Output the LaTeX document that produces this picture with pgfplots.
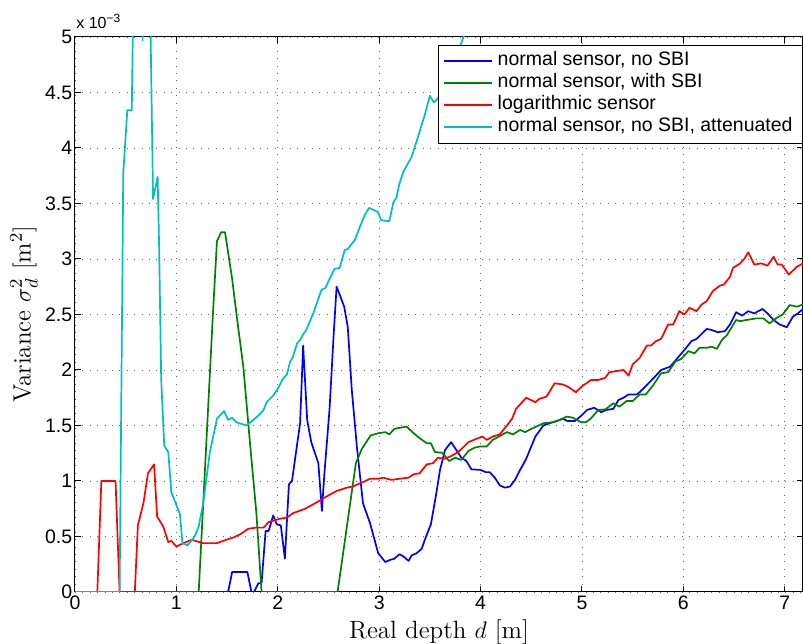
\documentclass[border=0pt]{standalone}
\usepackage{fontspec}
\usepackage{pgfplots}
\pgfplotsset{compat=1.18}
\newfontfamily\arial{Liberation Sans}
\definecolor{mblue}{rgb}{0,0,1}
\definecolor{mgreen}{rgb}{0,0.5,0}
\definecolor{mred}{rgb}{1,0,0}
\definecolor{mcyan}{rgb}{0,0.75,0.75}
\begin{document}
\begin{tikzpicture}
\begin{axis}[name=ax, scale only axis, width=364pt, height=277.5pt,
  xmin=0, xmax=7.18, ymin=0, ymax=5,
  xtick={0,1,2,3,4,5,6,7},
  ytick={0,0.5,1,1.5,2,2.5,3,3.5,4,4.5,5},
  yticklabels={0,0.5,1,1.5,2,2.5,3,3.5,4,4.5,5},
  tick align=inside, major tick length=2.8pt,
  every tick/.style={black, line width=0.5pt},
  axis line style={line width=0.5pt},
  grid=major,
  major grid style={black!60, line width=0.45pt, dash pattern=on 0.5pt off 3.2pt},
  /pgf/number format/assume math mode=true,
  tick label style={font=\arial\fontsize{9.75}{11}\selectfont},
  yticklabel style={inner sep=1.2pt},
  xticklabel style={inner sep=1.6pt},
  xlabel={Real depth $d$ [m]},
  ylabel={Variance $\sigma_d^2$ $[\mathrm{m}^2]$},
  label style={font=\fontsize{12.5}{15}\selectfont},
  xlabel shift=0pt, ylabel shift=-1pt,
  legend cell align=left,
  legend image code/.code={\draw[#1, line width=0.9pt] (0pt,0pt) -- (24pt,0pt);},
  legend style={at={(1,1)}, anchor=north east, xshift=0pt, yshift=-4pt,
    font=\arial\fontsize{9.75}{11}\selectfont, draw=black,
    inner xsep=2.5pt, inner ysep=2.5pt, row sep=0pt,
    nodes={inner xsep=2.5pt, inner ysep=1pt, text height=6.8pt, text depth=2.2pt}},
]
% normal sensor, no SBI
\addplot[mblue, line width=0.85pt, line join=round] coordinates {
(0,0) (1.51,0) (1.55,0.18) (1.70,0.18) (1.74,0) (1.765,0) (1.81,0.08) (1.84,0.08)
(1.88,0.55) (1.91,0.55) (1.955,0.69) (1.99,0.61) (2.03,0.60) (2.07,0.30) (2.11,0.97)
(2.14,1.00) (2.22,1.52) (2.25,2.22) (2.29,1.55) (2.33,1.35) (2.40,1.16) (2.435,0.73)
(2.46,1.07) (2.51,1.64) (2.55,2.30) (2.58,2.75) (2.61,2.68) (2.655,2.57) (2.69,2.39)
(2.73,1.82) (2.78,1.31) (2.84,0.80) (2.91,0.62) (2.99,0.35) (3.06,0.27) (3.11,0.29)
(3.15,0.30) (3.20,0.34) (3.24,0.32) (3.29,0.28) (3.32,0.33) (3.37,0.35) (3.42,0.39)
(3.45,0.47) (3.51,0.61) (3.56,0.87) (3.60,1.10) (3.65,1.28) (3.71,1.35) (3.76,1.28)
(3.81,1.21) (3.86,1.18) (3.91,1.105) (4.00,1.10) (4.05,1.08) (4.09,1.08) (4.14,1.03)
(4.19,0.96) (4.24,0.94) (4.29,0.95) (4.34,1.01) (4.39,1.10) (4.45,1.20) (4.54,1.40)
(4.62,1.50) (4.68,1.52) (4.75,1.54) (4.81,1.56) (4.86,1.54) (4.93,1.54) (4.995,1.59)
(5.05,1.64) (5.12,1.66) (5.19,1.62) (5.24,1.64) (5.31,1.65) (5.36,1.73) (5.41,1.75)
(5.46,1.78) (5.54,1.78) (5.57,1.80) (5.64,1.865) (5.72,1.94) (5.78,2.00) (5.87,2.03)
(5.94,2.105) (6.01,2.18) (6.08,2.26) (6.13,2.28) (6.23,2.37) (6.28,2.36) (6.34,2.34)
(6.41,2.35) (6.46,2.41) (6.52,2.52) (6.58,2.49) (6.64,2.53) (6.70,2.51) (6.78,2.55)
(6.83,2.51) (6.89,2.45) (6.95,2.41) (7.02,2.385) (7.08,2.48) (7.13,2.51) (7.18,2.55)
};
\addlegendentry{normal sensor, no SBI}
% normal sensor, with SBI
\addplot[mgreen, line width=0.85pt, line join=round] coordinates {
(0,0) (1.22,0) (1.36,2.50) (1.40,3.16) (1.44,3.24) (1.48,3.24) (1.55,2.82) (1.60,2.45)
(1.66,2.03) (1.73,1.30) (1.79,0.70) (1.84,0) (2.59,0) (2.77,1.16) (2.83,1.29)
(2.915,1.41) (2.99,1.43) (3.06,1.44) (3.10,1.42) (3.15,1.47) (3.27,1.49) (3.34,1.43)
(3.40,1.385) (3.47,1.34) (3.51,1.34) (3.55,1.26) (3.62,1.255) (3.69,1.18) (3.75,1.21)
(3.81,1.19) (3.88,1.27) (3.94,1.30) (3.99,1.31) (4.06,1.31) (4.12,1.37) (4.19,1.405)
(4.26,1.44) (4.32,1.42) (4.39,1.46) (4.44,1.44) (4.50,1.47) (4.55,1.49) (4.62,1.52)
(4.72,1.53) (4.78,1.55) (4.85,1.58) (4.91,1.57) (4.99,1.53) (5.04,1.53) (5.09,1.565)
(5.16,1.64) (5.23,1.645) (5.31,1.70) (5.37,1.67) (5.44,1.72) (5.50,1.72) (5.57,1.78)
(5.63,1.78) (5.70,1.86) (5.78,1.97) (5.85,1.98) (5.92,2.075) (5.98,2.10) (6.05,2.17)
(6.11,2.15) (6.16,2.20) (6.23,2.20) (6.28,2.21) (6.33,2.19) (6.38,2.27) (6.43,2.315)
(6.52,2.45) (6.56,2.44) (6.62,2.45) (6.72,2.465) (6.79,2.465) (6.85,2.42) (6.92,2.47)
(6.98,2.50) (7.05,2.585) (7.12,2.57) (7.18,2.59)
};
\addlegendentry{normal sensor, with SBI}
% logarithmic sensor
\addplot[mred, line width=0.85pt, line join=round] coordinates {
(0,0) (0.22,0) (0.26,1.0) (0.40,1.0) (0.44,0) (0.59,0) (0.62,0.60) (0.675,0.80)
(0.72,1.07) (0.78,1.15) (0.81,0.68) (0.87,0.59) (0.92,0.45) (0.95,0.46) (1.00,0.41)
(1.07,0.44) (1.15,0.47) (1.26,0.44) (1.40,0.44) (1.49,0.47) (1.56,0.49) (1.63,0.52)
(1.71,0.57) (1.79,0.58) (1.86,0.58) (1.91,0.63) (2.02,0.66) (2.09,0.67) (2.15,0.71)
(2.27,0.75) (2.37,0.80) (2.46,0.85) (2.58,0.91) (2.68,0.94) (2.74,0.95) (2.84,0.99)
(2.91,1.02) (2.99,1.02) (3.04,1.03) (3.12,1.01) (3.20,1.02) (3.29,1.03) (3.34,1.06)
(3.40,1.07) (3.47,1.15) (3.53,1.16) (3.58,1.21) (3.64,1.20) (3.70,1.22) (3.78,1.26)
(3.88,1.35) (3.96,1.38) (4.02,1.40) (4.06,1.37) (4.12,1.40) (4.19,1.42) (4.26,1.50)
(4.31,1.56) (4.35,1.65) (4.45,1.75) (4.54,1.71) (4.58,1.74) (4.65,1.76) (4.73,1.88)
(4.81,1.87) (4.86,1.85) (4.94,1.80) (5.01,1.86) (5.09,1.91) (5.16,1.91) (5.23,1.93)
(5.27,1.98) (5.34,1.99) (5.41,2.00) (5.46,1.95) (5.50,2.05) (5.57,2.11) (5.64,2.22)
(5.68,2.22) (5.73,2.26) (5.78,2.28) (5.85,2.41) (5.90,2.41) (5.96,2.53) (6.01,2.50)
(6.06,2.56) (6.13,2.53) (6.18,2.59) (6.23,2.62) (6.29,2.71) (6.36,2.76) (6.40,2.77)
(6.46,2.84) (6.49,2.92) (6.56,2.96) (6.60,3.00) (6.64,3.06) (6.70,2.95) (6.77,2.96)
(6.83,2.94) (6.89,3.02) (6.93,2.95) (6.97,2.95) (7.04,2.86) (7.12,2.93) (7.18,2.96)
};
\addlegendentry{logarithmic sensor}
% normal sensor, no SBI, attenuated
\addplot[mcyan, line width=0.85pt, line join=round] coordinates {
(0,0) (0.44,0) (0.476,3.77) (0.516,4.34) (0.56,4.34) (0.57,5.0) (0.58,6.0) (0.66,6.0)
(0.667,4.97) (0.674,6.0) (0.74,6.0) (0.746,5.0) (0.77,3.54) (0.815,3.74) (0.83,3.10)
(0.85,1.92) (0.88,1.32) (0.92,1.26) (0.95,0.90) (1.035,0.70) (1.06,0.44) (1.11,0.42)
(1.18,0.50) (1.22,0.59) (1.265,0.80) (1.33,1.26) (1.40,1.56) (1.47,1.63) (1.51,1.55)
(1.55,1.57) (1.59,1.53) (1.69,1.50) (1.76,1.55) (1.82,1.60) (1.86,1.64) (1.89,1.71)
(1.955,1.77) (2.00,1.83) (2.05,1.92) (2.09,1.96) (2.12,2.07) (2.15,2.12) (2.19,2.24)
(2.22,2.27) (2.25,2.32) (2.28,2.36) (2.35,2.51) (2.43,2.72) (2.47,2.74) (2.51,2.82)
(2.56,2.91) (2.61,2.92) (2.66,3.08) (2.69,3.09) (2.76,3.17) (2.81,3.29) (2.86,3.40)
(2.90,3.46) (2.95,3.44) (2.99,3.42) (3.02,3.35) (3.10,3.34) (3.14,3.51) (3.17,3.55)
(3.20,3.68) (3.24,3.79) (3.32,3.92) (3.39,4.12) (3.45,4.30) (3.50,4.47) (3.54,4.41)
(3.58,4.45) (3.66,4.60) (3.75,4.80) (3.84,5.02) (3.90,5.3)
};
\addlegendentry{normal sensor, no SBI, attenuated}
\end{axis}
\node[anchor=base west, inner sep=0pt, font=\arial\fontsize{8}{9}\selectfont]
  at ([xshift=0.5pt,yshift=4.2pt]ax.north west) {x 10\textsuperscript{−3}};
\pgfresetboundingbox
\path ([xshift=-37.5pt,yshift=-26pt]ax.south west) rectangle ([yshift=18.5pt]ax.north east);
\end{tikzpicture}
\end{document}
